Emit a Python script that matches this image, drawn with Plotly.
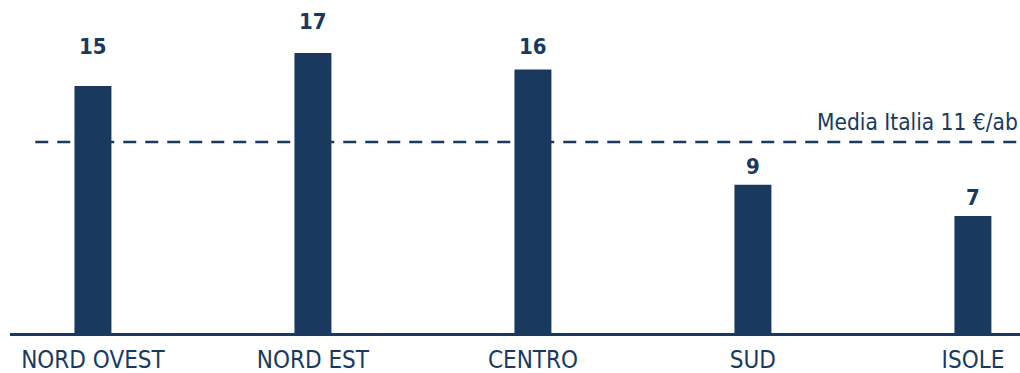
import plotly.graph_objects as go

categories = ["NORD OVEST", "NORD EST", "CENTRO", "SUD", "ISOLE"]
values = [15.0, 17.0, 16.0, 9.0, 7.1]
value_labels = ["15", "17", "16", "9", "7"]
media_italia = 11.6
media_label = "Media Italia 11 €/ab"

# label offsets above the bar tops (style, px)
label_shifts = [39, 31, 23, 18, 19]

NAVY = "#193A5E"
FONT = "Liberation Sans Narrow, DejaVu Sans Condensed, Roboto, sans-serif"

fig = go.Figure()
fig.add_trace(go.Bar(
    x=categories, y=values,
    marker=dict(color=NAVY, line=dict(width=0)),
    width=0.168,
))
for cat, val, lab, sh in zip(categories, values, value_labels, label_shifts):
    fig.add_annotation(x=cat, y=val, text=lab, showarrow=False,
                       xanchor="center", yanchor="middle", yshift=sh,
                       font=dict(family=FONT, size=22, color=NAVY, weight="bold"))
fig.add_shape(type="line", xref="paper", yref="y", x0=0.025, x1=1.0,
              y0=media_italia, y1=media_italia,
              line=dict(color=NAVY, width=2.5, dash="13px,9px"))
fig.add_annotation(xref="paper", yref="y", x=1.0, y=media_italia,
                   text=media_label, showarrow=False,
                   xanchor="right", yanchor="bottom", yshift=5,
                   font=dict(family=FONT, size=22.5, color=NAVY))
fig.update_layout(
    width=1020, height=373,
    margin=dict(l=10, r=0, t=20, b=40),
    plot_bgcolor="white", paper_bgcolor="white",
    showlegend=False,
    xaxis=dict(range=[-0.377, 4.214], showline=True, linecolor=NAVY, linewidth=3,
               ticks="", ticklabelstandoff=3, automargin=False,
               tickfont=dict(family=FONT, size=24, color=NAVY),
               showgrid=False, zeroline=False),
    yaxis=dict(range=[0, 19.0], visible=False, showgrid=False, zeroline=False),
)
fig.write_html("out.html", config={"displayModeBar": False},
               post_script="document.body.style.margin='0';")
